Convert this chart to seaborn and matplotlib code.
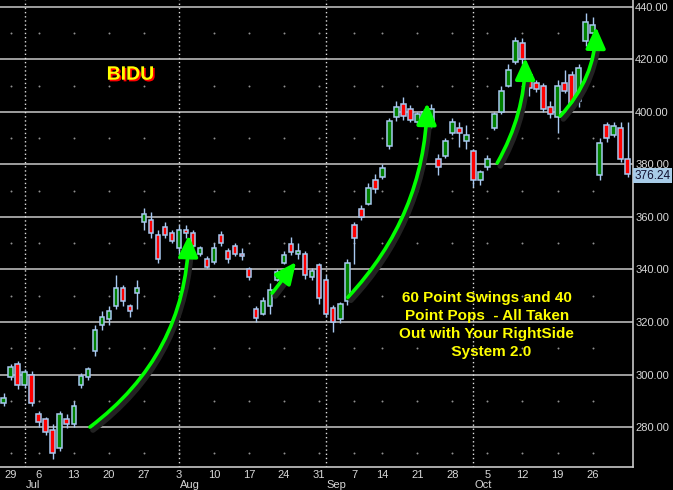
import numpy as np
import pandas as pd
import matplotlib
matplotlib.use("Agg")
import matplotlib.pyplot as plt
import matplotlib.patheffects as pe
import matplotlib.transforms as mtrans
from matplotlib.patches import FancyArrowPatch
import seaborn as sns

# BIDU daily bars, late Jun - early Nov 2009
opens = [289, 299, 304, 296, 300, 285, 283, 279, 272, 283,
         281, 296, 299, 309, 319, 321, 326, 333, 326, 331,
         358, 359, 353, 356, 354, 348, 355, 354, 346, 344,
         343, 353, 347, 349, 346, 340, 325, 323, 326, 336,
         342.5, 349.5, 346, 346, 337, 341.5, 336, 325.5, 321, 328,
         357, 363, 365, 374, 375, 387, 398, 403, 401, 396,
         400, 395, 382, 383, 392, 394, 389, 385, 374, 379,
         394, 400, 410, 419, 426, 414, 411, 410, 402, 398,
         411, 414, 404, 427, 430, 376, 395, 391, 394, 382]
highs = [293, 304, 305, 302, 301.5, 286, 284, 281, 286, 285,
         290, 300.5, 303, 319, 324, 326, 338, 334, 327, 336,
         363.5, 362, 355, 358, 355, 357, 357, 355, 349, 345,
         350, 354.5, 348, 350, 348, 341, 326, 329.5, 335, 340,
         347, 352.5, 350, 347, 340.5, 342.5, 338, 326.5, 327.5, 344,
         358, 364.5, 373, 376.3, 380, 397.5, 404, 405.6, 402.5, 400,
         401, 403, 384, 390, 397.5, 396, 395, 386, 378, 383.5,
         400, 410, 418, 428.5, 428, 416, 412, 411, 404, 412,
         416, 415.5, 418, 437.5, 436, 390, 396, 396, 396, 396]
lows = [288, 298, 294.5, 295, 288, 280, 277, 268, 271, 279.5,
        280, 295, 298, 307, 317, 319, 325, 326, 322, 325,
        355, 352, 342.5, 352, 350, 346, 352, 348, 345, 340.5,
        342, 349, 342.5, 345, 343.5, 336, 320, 322.5, 323, 335.5,
        342, 345.5, 344, 336.5, 336, 327, 322, 316, 319.5, 326.5,
        342, 359, 364.5, 369, 374.5, 386, 396.5, 397, 396, 395,
        395.5, 394, 376, 382.5, 391, 386.5, 386, 371.5, 372, 378,
        393, 399, 409.5, 418, 418, 406, 407.5, 400, 397.5, 392,
        407, 401.5, 402, 425, 424, 374, 388.5, 390.5, 381, 375]
closes = [291, 303, 296, 301, 289, 282, 278, 270, 285, 281,
          288, 299.5, 302, 317, 322, 324, 333, 328, 324, 333,
          361, 354, 344, 353, 351, 355, 354, 349, 348, 341,
          348, 350, 344, 346, 345, 337, 321.5, 328, 332, 339,
          345.5, 346.5, 347, 338, 339.5, 329, 323, 320, 327, 342.5,
          352, 360, 371, 370.5, 378.5, 396.5, 402, 398.5, 397, 399,
          396.5, 401, 379, 389, 396, 392, 391, 374, 377, 382,
          399, 408, 416, 427, 420, 409, 408.5, 401, 399, 410,
          408, 403, 416.5, 434, 433, 388, 390, 394.5, 382, 376.24]

# trading days as the chart spaces them (Jul 3 and Labor Day left out)
dates = pd.bdate_range("2009-06-26", "2009-11-02").drop(
    pd.to_datetime(["2009-07-03", "2009-09-07"]))

price_ticks = [280, 300, 320, 340, 360, 380, 400, 420, 440]
dot_levels = [270, 290, 310, 330, 350, 370, 390, 410, 430]
month_names = ["Jul", "Aug", "Sep", "Oct"]
last_price = 376.24
title = "BIDU"
note = "60 Point Swings and 40\nPoint Pops  - All Taken\nOut with Your RightSide\n  System 2.0"

# green arrows: start day, start price, end day, end price, bend
arrows = [(12.3, 280.0, 26.4, 353.0, 0.24),
          (38.3, 331.0, 41.7, 342.8, 0.0),
          (49.1, 329.4, 60.4, 403.3, 0.19),
          (70.4, 380.5, 74.4, 420.5, 0.13),
          (79.4, 398.4, 84.5, 432.3, 0.19)]

df = pd.DataFrame({"open": opens, "high": highs, "low": lows, "close": closes})
df["pos"] = np.arange(len(df))
df["up"] = df["close"] >= df["open"]

# week ticks: first trading day of each week, labelled with Monday's date
monday = dates - pd.to_timedelta(dates.weekday, unit="D")
first = ~monday.duplicated()
wk_pos = np.arange(len(dates))[first]
wk_mon = monday[first]
keep = (wk_mon >= dates[1]) & (wk_mon.month < 11)
tick_pos = wk_pos[keep]
tick_lab = [str(d.day) for d in wk_mon[keep]]
# month starts
new_month = np.r_[False, dates.month[1:] != dates.month[:-1]]
month_pos = np.arange(len(dates))[new_month][:len(month_names)]

sns.set_theme(style="dark", rc={"axes.facecolor": "black", "figure.facecolor": "black",
                                "axes.grid": False})
plt.rcParams["font.family"] = ["Liberation Sans", "DejaVu Sans"]

light = "#c8c8c8"
wick_c = "#a8c8f0"

fig = plt.figure(figsize=(6.73, 4.9), dpi=100)
ax = fig.add_axes([0, 23 / 490, 633 / 673, 467 / 490])
ax.set_facecolor("black")

# grid
for p in price_ticks:
    ax.axhline(p, color=light, lw=1.1, zorder=1)
for m in month_pos:
    ax.axvline(m, color="#e0e0e0", lw=1, ls=(0, (1, 2)), zorder=1)
dots = pd.DataFrame([(x, y) for x in tick_pos for y in dot_levels], columns=["x", "y"])
sns.scatterplot(data=dots, x="x", y="y", ax=ax, s=2, color="#909090", linewidth=0,
                legend=False, zorder=1)

# candles
ax.vlines(df["pos"], df["low"], df["high"], color=wick_c, lw=1, zorder=2)
ax.bar(df["pos"], df["close"] - df["open"], bottom=df["open"], width=0.66,
       color=np.where(df["up"], "#008000", "#ff0000"), edgecolor=wick_c, linewidth=1.1, zorder=3)

# arrows, with a faint dark shadow down-right
shadow_tr = mtrans.offset_copy(ax.transData, fig=fig, x=3, y=-3, units="dots")
for x0, y0, x1, y1, rad in arrows:
    sh = FancyArrowPatch((x0, y0), (x1, y1), connectionstyle=f"arc3,rad={rad}",
                         arrowstyle="-", color="#222222", lw=4, zorder=4,
                         transform=shadow_tr, shrinkA=0, shrinkB=12)
    ax.add_patch(sh)
    arr = FancyArrowPatch((x0, y0), (x1, y1), connectionstyle=f"arc3,rad={rad}",
                          arrowstyle="-|>,head_length=1.3,head_width=0.6", mutation_scale=10,
                          color="#00ff00", lw=2.6, zorder=5, shrinkA=0, shrinkB=0)
    ax.add_patch(arr)

# texts
ax.text(0.206, 0.839, title, transform=ax.transAxes, ha="center", va="center",
        color="#ffff00", fontsize=14, fontweight="bold", zorder=6,
        path_effects=[pe.withSimplePatchShadow(offset=(1.2, -1.2), shadow_rgbFace="#ff0000", alpha=1)])
ax.text(0.769, 0.305, note, transform=ax.transAxes, ha="center", va="center",
        multialignment="center", linespacing=1.36, color="#ffff00", fontsize=11,
        fontweight="bold", zorder=6)

# axes
ax.set_xlim(-0.53, 89.77)
ax.set_ylim(264.8, 442.55)
for s in ["left", "top"]:
    ax.spines[s].set_visible(False)
for s in ["bottom", "right"]:
    ax.spines[s].set_color(light)
    ax.spines[s].set_linewidth(1.2)
ax.yaxis.tick_right()
ax.set_yticks(price_ticks)
ax.set_yticklabels([f"{p:.2f}" for p in price_ticks])
ax.set_xticks(tick_pos)
ax.set_xticklabels(tick_lab)
ax.tick_params(axis="both", length=0, labelsize=8, labelcolor="#d8d8d8")
ax.tick_params(axis="y", pad=1.5)
ax.tick_params(axis="x", pad=2.5)
ax.set_xlabel("")
ax.set_ylabel("")
for m, name in zip(month_pos, month_names):
    ax.text(m + 0.1, -0.038, name, transform=ax.get_xaxis_transform(), ha="left", va="center",
            fontsize=8, color="#d8d8d8", clip_on=False)

# last price box
tr = mtrans.blended_transform_factory(ax.transAxes, ax.transData)
ax.text(1.003, last_price - 0.6, f"{last_price:.2f}", transform=tr, ha="left", va="center",
        fontsize=8.5, color="#101030", clip_on=False, zorder=7,
        bbox=dict(boxstyle="square,pad=0.12", fc="#a8cce8", ec="none"))

fig.savefig("out.png", dpi=100, facecolor="black")
